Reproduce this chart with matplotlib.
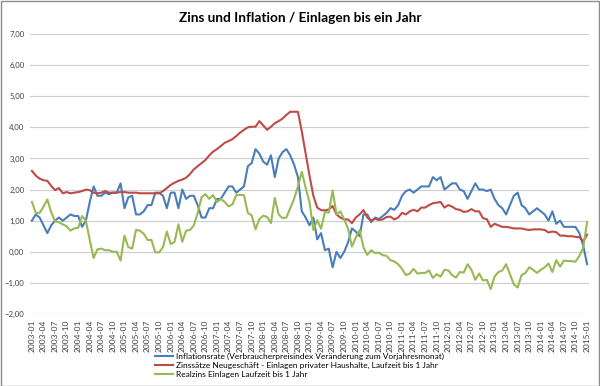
import matplotlib
matplotlib.use("Agg")
import matplotlib.pyplot as plt
from matplotlib.patches import Rectangle

# monthly categories 2003-01 .. 2015-01
months = ["%d-%02d" % (y, m) for y in range(2003, 2016) for m in range(1, 13)][:145]

# Inflationsrate (VPI, Veraenderung zum Vorjahresmonat)
inflation = [
    1.0, 1.2, 1.1, 0.85, 0.6, 0.85, 1.0, 1.1, 1.0, 1.1, 1.2, 1.15,      # 2003
    1.15, 0.8, 1.0, 1.6, 2.1, 1.8, 1.8, 1.9, 1.85, 1.9, 1.9, 2.2,       # 2004
    1.4, 1.75, 1.8, 1.2, 1.2, 1.3, 1.5, 1.5, 1.9, 1.9, 1.8, 1.4,        # 2005
    1.9, 1.9, 1.4, 2.0, 1.7, 1.8, 1.8, 1.5, 1.1, 1.1, 1.4, 1.4,         # 2006
    1.7, 1.7, 1.9, 2.1, 2.1, 1.9, 2.0, 2.1, 2.75, 2.85, 3.3, 3.15,      # 2007
    2.9, 2.8, 3.1, 2.4, 3.0, 3.2, 3.3, 3.1, 2.8, 2.4, 1.3, 1.1,         # 2008
    0.85, 1.1, 0.4, 0.6, 0.05, 0.1, -0.5, 0.0, -0.2, 0.0, 0.3, 0.75,    # 2009
    0.65, 0.5, 1.2, 1.2, 0.95, 1.1, 1.05, 1.15, 1.25, 1.4, 1.35, 1.5,   # 2010
    1.8, 1.95, 2.0, 1.9, 2.0, 2.1, 2.1, 2.1, 2.4, 2.3, 2.4, 2.0,        # 2011
    2.1, 2.2, 2.2, 2.0, 1.95, 1.7, 1.95, 2.2, 2.0, 2.0, 1.95, 2.0,      # 2012
    1.7, 1.5, 1.4, 1.2, 1.5, 1.8, 1.9, 1.5, 1.4, 1.2, 1.3, 1.4,         # 2013
    1.3, 1.2, 1.0, 1.3, 0.9, 1.0, 0.8, 0.8, 0.8, 0.8, 0.6, 0.2,         # 2014
    -0.4,                                                               # 2015
]

# Zinssaetze Neugeschaeft - Einlagen privater Haushalte, Laufzeit bis 1 Jahr
zins = [
    2.6, 2.45, 2.35, 2.3, 2.28, 2.12, 1.98, 2.05, 1.88, 1.92, 1.88, 1.9,
    1.92, 1.95, 2.0, 1.98, 1.9, 1.88, 1.9, 1.95, 1.9, 1.9, 1.9, 1.92,
    1.92, 1.9, 1.9, 1.9, 1.88, 1.88, 1.88, 1.88, 1.88, 1.88, 1.95, 2.05,
    2.15, 2.22, 2.28, 2.32, 2.38, 2.5, 2.65, 2.75, 2.85, 2.95, 3.1, 3.22,
    3.3, 3.4, 3.5, 3.56, 3.62, 3.72, 3.83, 3.92, 4.0, 4.02, 4.02, 4.2,
    4.06, 3.92, 4.02, 4.13, 4.2, 4.28, 4.4, 4.5, 4.5, 4.5, 3.87, 3.16,
    2.45, 1.8, 1.42, 1.34, 1.33, 1.36, 1.47, 1.2, 1.1, 1.04, 1.04, 0.92,
    1.1, 1.2, 1.34, 1.1, 1.0, 1.06, 1.02, 1.04, 1.12, 1.13, 1.04, 1.1,
    1.25, 1.2, 1.3, 1.35, 1.3, 1.42, 1.42, 1.5, 1.56, 1.58, 1.6, 1.42,
    1.5, 1.45, 1.37, 1.35, 1.28, 1.3, 1.37, 1.3, 1.3, 1.08, 1.05, 0.8,
    0.9, 0.85, 0.8, 0.8, 0.78, 0.75, 0.75, 0.75, 0.72, 0.7, 0.72, 0.72,
    0.72, 0.7, 0.62, 0.65, 0.63, 0.52, 0.52, 0.5, 0.5, 0.48, 0.47, 0.33,
    0.55,
]

# Realzins Einlagen Laufzeit bis 1 Jahr
realzins = [
    1.6, 1.25, 1.25, 1.45, 1.68, 1.27, 0.98, 0.95, 0.88, 0.82, 0.68, 0.75,
    0.77, 1.15, 1.0, 0.38, -0.2, 0.08, 0.1, 0.05, 0.05, 0.0, 0.0, -0.28,
    0.52, 0.15, 0.1, 0.7, 0.68, 0.58, 0.38, 0.38, -0.02, -0.02, 0.15, 0.65,
    0.25, 0.32, 0.88, 0.32, 0.68, 0.7, 0.85, 1.25, 1.75, 1.85, 1.7, 1.82,
    1.6, 1.7, 1.6, 1.46, 1.52, 1.82, 1.83, 1.82, 1.25, 1.17, 0.72, 1.05,
    1.16, 1.12, 0.92, 1.73, 1.2, 1.08, 1.1, 1.4, 1.7, 2.1, 2.57, 2.06,
    1.6, 0.7, 1.02, 0.74, 1.28, 1.26, 1.97, 1.2, 1.3, 1.04, 0.74, 0.17,
    0.45, 0.7, 0.14, -0.1, 0.05, -0.04, -0.03, -0.11, -0.13, -0.27, -0.31, -0.4,
    -0.55, -0.75, -0.7, -0.55, -0.7, -0.68, -0.68, -0.6, -0.84, -0.72, -0.8, -0.58,
    -0.6, -0.75, -0.83, -0.65, -0.67, -0.4, -0.58, -0.9, -0.7, -0.92, -0.9, -1.2,
    -0.8, -0.65, -0.6, -0.4, -0.72, -1.05, -1.15, -0.75, -0.68, -0.5, -0.58, -0.68,
    -0.58, -0.5, -0.38, -0.65, -0.27, -0.48, -0.28, -0.3, -0.3, -0.32, -0.13, 0.13,
    0.95,
]

labels = [
    "Inflationsrate (Verbraucherpreisindex Veränderung zum Vorjahresmonat)",
    "Zinssätze Neugeschäft - Einlagen privater Haushalte, Laufzeit bis 1 Jahr",
    "Realzins Einlagen Laufzeit bis 1 Jahr",
]
colors = ["#4a7ebb", "#be4b48", "#98b954"]
yticks = [-2, -1, 0, 1, 2, 3, 4, 5, 6, 7]

plt.rcParams['font.family'] = ['Lato', 'DejaVu Sans']

fig = plt.figure(figsize=(6.0, 3.86), dpi=100)
fig.patches.append(Rectangle((0.001, 0.001), 0.997, 0.996, transform=fig.transFigure,
                             fill=False, edgecolor="#8c8c8c", linewidth=1.0))

ax = fig.add_axes([30 / 600, 1 - 314 / 386, 559 / 600, 280 / 386])
x = list(range(len(months)))
for series, c, lab in zip([inflation, zins, realzins], colors, labels):
    ax.plot(x, series, color=c, lw=1.5, label=lab)

ax.set_xlim(-0.5, len(months) - 0.5)
ax.set_ylim(-2, 7)
ax.set_yticks(yticks)
ax.set_yticklabels([("%.2f" % v).replace(".", ",").replace("-", "\u2212") for v in yticks])
ax.set_xticks(x[::3])
ax.set_xticklabels(months[::3], rotation=90)
ax.tick_params(axis='both', length=0, labelsize=6, colors="#404040")
ax.tick_params(axis='y', labelsize=5.6, pad=4)
ax.tick_params(axis='x', pad=4)
ax.grid(axis='y', color="#d0d0d0", lw=0.9)
ax.set_axisbelow(True)
for s in ax.spines.values():
    s.set_visible(False)

fig.text(0.5, 1 - 18 / 386, "Zins und Inflation / Einlagen bis ein Jahr",
         ha='center', va='center', fontsize=9.8, fontweight='bold')

fig.legend(loc='upper left', bbox_to_anchor=(155 / 600, 1 - 353 / 386), frameon=False,
           fontsize=6, handlelength=2.2, handletextpad=0.3, labelspacing=0.25,
           borderpad=0, borderaxespad=0)

fig.savefig("out.png", dpi=100)
